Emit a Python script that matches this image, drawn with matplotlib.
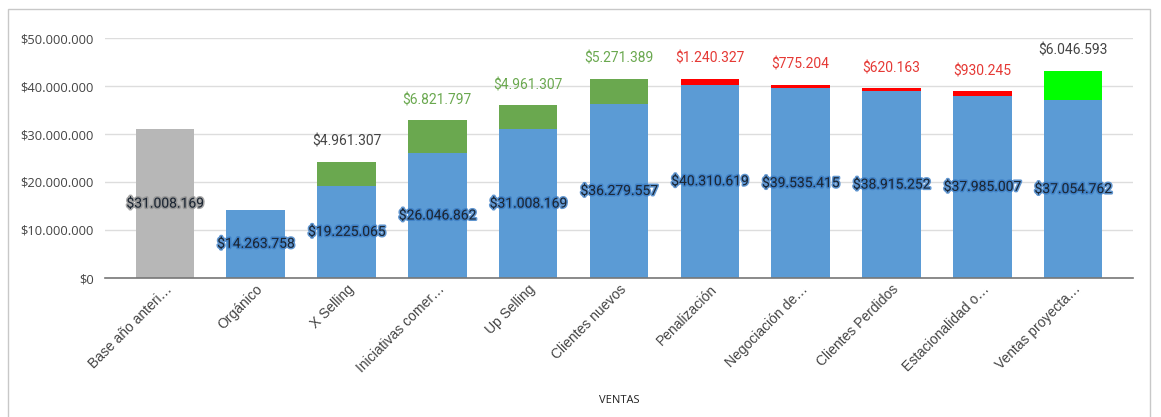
import matplotlib
matplotlib.use('Agg')
import matplotlib.pyplot as plt
import matplotlib.patheffects as pe
from matplotlib.patches import Rectangle
from matplotlib.ticker import FuncFormatter

categories = ['Base año anteri…', 'Orgánico', 'X Selling', 'Iniciativas comer…',
              'Up Selling', 'Clientes nuevos', 'Penalización', 'Negociación de…',
              'Clientes Perdidos', 'Estacionalidad o…', 'Ventas proyecta…']
base = [31008169, 14263758, 19225065, 26046862, 31008169, 36279557,
        40310619, 39535415, 38915252, 37985007, 37054762]
delta = [0, 0, 4961307, 6821797, 4961307, 5271389,
         1240327, 775204, 620163, 930245, 6046593]
base_colors = ['#b7b7b7'] + ['#5b9bd5'] * 10
delta_colors = ['#6aa84f'] * 6 + ['#ff0000'] * 4 + ['#00ff00']
label_colors = ['#444444', '#444444', '#444444', '#6aa84f', '#6aa84f', '#6aa84f',
                '#e53935', '#e53935', '#e53935', '#e53935', '#444444']
halo_colors = ['#8f8f8f'] + ['#3a7cc4'] * 10


def money(v):
    return '$' + f'{int(round(v)):,}'.replace(',', '.')


fig = plt.figure(figsize=(11.61, 4.17), dpi=100)
ax = fig.add_axes([105 / 1161, 1 - 278 / 417, (1133 - 105) / 1161, 240 / 417])

x = list(range(len(categories)))
ax.bar(x, base, width=0.645, color=base_colors, zorder=2)
ax.bar(x, delta, bottom=base, width=0.645, color=delta_colors, zorder=2)

for i in x:
    ax.text(i, base[i] / 2, money(base[i]), ha='center', va='center',
            fontsize=10, family='Roboto', color='#1c2633', zorder=4,
            path_effects=[pe.withStroke(linewidth=2.2, foreground=halo_colors[i], alpha=0.8)])
    if delta[i]:
        ax.annotate(money(delta[i]), (i, base[i] + delta[i]), xytext=(0, 14.5),
                    textcoords='offset points', ha='center', va='center',
                    fontsize=10, family='Roboto', color=label_colors[i], zorder=4)

ax.set_xlim(-0.66, 10.66)
ax.set_ylim(0, 50000000)
ax.set_yticks(range(0, 50000001, 10000000))
ax.yaxis.set_major_formatter(FuncFormatter(lambda v, p: money(v)))
ax.grid(axis='y', color='#dddddd', linewidth=1, zorder=0)
ax.tick_params(axis='y', length=0, pad=8, labelsize=9.3, labelcolor='#444444')
ax.tick_params(axis='x', length=0, pad=3)
for lbl in ax.get_yticklabels():
    lbl.set_family('Open Sans')

ax.set_xticks(x)
ax.set_xticklabels(categories, rotation=45, ha='right', rotation_mode='anchor',
                   fontsize=10, family='Liberation Sans', color='#444444')

for s in ['top', 'right', 'left']:
    ax.spines[s].set_visible(False)
ax.spines['bottom'].set_color('#777777')
ax.spines['bottom'].set_linewidth(1.2)
ax.spines['bottom'].set_zorder(3)

ax.set_xlabel('VENTAS', fontsize=8, family='Open Sans', color='#222222', labelpad=14)

fig.patches.append(Rectangle((8 / 1161, -0.05), (1150 - 8) / 1161, 1.05 - 9 / 417,
                             transform=fig.transFigure, fill=False,
                             edgecolor='#c8c8c8', linewidth=1))

plt.savefig('out.png', dpi=100)
